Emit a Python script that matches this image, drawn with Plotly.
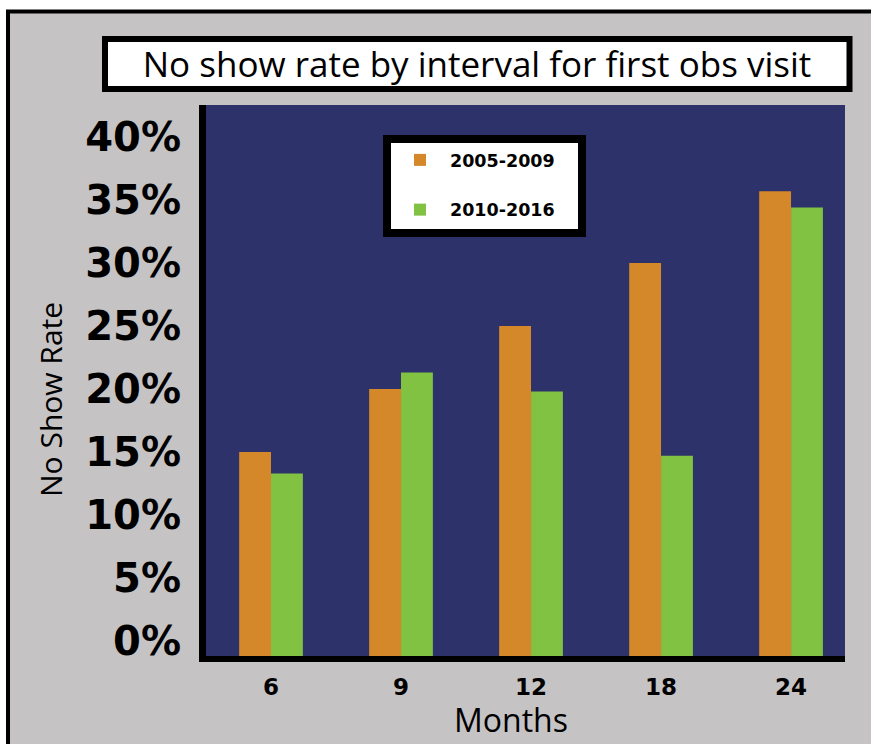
import plotly.graph_objects as go

# Follow-up interval (months) for the first obstetric visit
months = ["6", "9", "12", "18", "24"]
periods = ["2005-2009", "2010-2016"]
rate_2005_2009 = [15.0, 20.0, 25.0, 30.0, 35.7]
rate_2010_2016 = [13.3, 21.3, 19.8, 14.7, 34.4]
y_ticks = [0, 5, 10, 15, 20, 25, 30, 35, 40]
y_tick_labels = [f"{v}%" for v in y_ticks]

W, H = 871, 744
L, R, T, B = 206, 26, 105, 88
PW, PH = W - L - R, H - T - B

Y_MIN, Y_MAX = -1.19, 42.54

NAVY = "#2d326b"
ORANGE = "#d48829"
GREEN = "#82c242"
GREY = "#c6c3c4"

def px_x(x):
    return (x - L) / PW

def px_y(y):
    return (H - B - y) / PH

fig = go.Figure()
fig.add_trace(go.Bar(
    name=periods[0], x=months, y=[v - Y_MIN for v in rate_2005_2009], base=Y_MIN,
    marker=dict(color=ORANGE, line=dict(width=0)), legendgroup="a",
    hovertemplate="%{x} months: " + "%{customdata}%<extra>" + periods[0] + "</extra>",
    customdata=rate_2005_2009,
))
fig.add_trace(go.Bar(
    name=periods[1], x=months, y=[v - Y_MIN for v in rate_2010_2016], base=Y_MIN,
    marker=dict(color=GREEN, line=dict(width=0)), legendgroup="b",
    hovertemplate="%{x} months: " + "%{customdata}%<extra>" + periods[1] + "</extra>",
    customdata=rate_2010_2016,
))

shapes = [
    # white margin above and left of the card
    dict(type="rect", xref="paper", yref="paper", layer="below",
         x0=px_x(-10), x1=px_x(W + 10), y0=px_y(10), y1=px_y(-10),
         fillcolor="white", line=dict(width=0)),
    dict(type="rect", xref="paper", yref="paper", layer="below",
         x0=px_x(-10), x1=px_x(6), y0=px_y(H + 10), y1=px_y(-10),
         fillcolor="white", line=dict(width=0)),
    # card outline (top and left edges)
    dict(type="path", xref="paper", yref="paper", layer="below",
         path=f"M {px_x(8)} {px_y(H + 10)} L {px_x(8)} {px_y(11.5)} L {px_x(W + 10)} {px_y(11.5)}",
         line=dict(color="black", width=4)),
    # title box
    dict(type="rect", xref="paper", yref="paper", layer="below",
         x0=px_x(105), x1=px_x(849.5), y0=px_y(89), y1=px_y(39),
         fillcolor="white", line=dict(color="black", width=6)),
    # legend box
    dict(type="rect", xref="paper", yref="paper", layer="above",
         x0=px_x(387), x1=px_x(582), y0=px_y(233), y1=px_y(139),
         fillcolor="white", line=dict(color="black", width=8)),
]

fig.update_layout(
    width=W, height=H,
    margin=dict(l=L, r=R, t=T, b=B, pad=0),
    paper_bgcolor=GREY,
    plot_bgcolor=NAVY,
    barmode="group",
    bargap=0.51,
    bargroupgap=0,
    shapes=shapes,
    title=dict(
        text="No show rate by interval for first obs visit",
        x=477 / W, xanchor="center", xref="container",
        y=1 - 65 / H, yanchor="middle", yref="container",
        font=dict(family="Open Sans", size=35, color="black"),
    ),
    xaxis=dict(
        type="category", range=[-0.5, 4.415],
        showline=True, linecolor="black", linewidth=6,
        showgrid=False, zeroline=False, ticks="",
        tickfont=dict(family="DejaVu Sans", size=23, color="black", weight="bold"),
        ticklabelstandoff=5,
    ),
    yaxis=dict(
        range=[Y_MIN, Y_MAX],
        tickvals=y_ticks, ticktext=y_tick_labels,
        showline=True, linecolor="black", linewidth=7,
        showgrid=False, zeroline=False, ticks="",
        tickfont=dict(family="DejaVu Sans", size=40, color="black", weight="bold"),
        ticklabelstandoff=10,
    ),
    legend=dict(
        x=px_x(390), y=px_y(142), xanchor="left", yanchor="top",
        bgcolor="rgba(0,0,0,0)", borderwidth=0,
        font=dict(family="DejaVu Sans", size=17.5, color="black", weight="bold"),
        itemwidth=50, tracegroupgap=24, traceorder="grouped",
    ),
    annotations=[
        dict(text="Months", xref="paper", yref="paper", x=px_x(511), y=px_y(719),
             xanchor="center", yanchor="middle", showarrow=False,
             font=dict(family="Open Sans", size=32, color="black")),
        dict(text="No Show Rate", xref="paper", yref="paper", x=px_x(50), y=px_y(400),
             xanchor="center", yanchor="middle", showarrow=False, textangle=-90,
             font=dict(family="Open Sans", size=30, color="black")),
    ],
)

fig.write_html("out.html")
